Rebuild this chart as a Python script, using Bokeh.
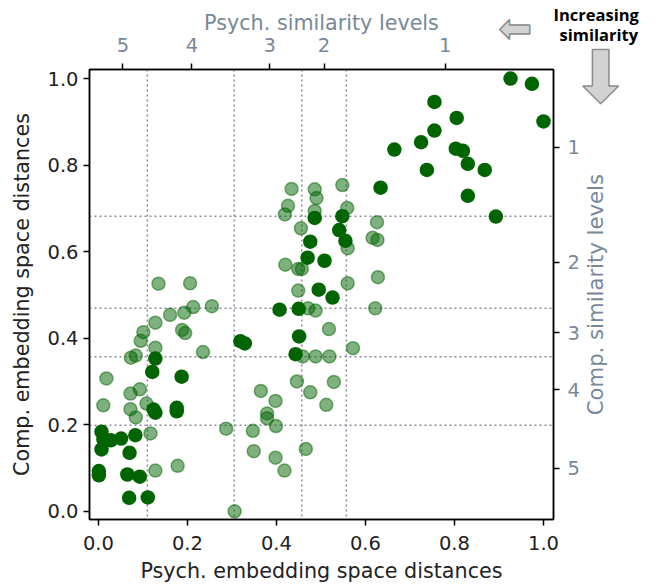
import math
from bokeh.plotting import figure
from bokeh.models import (LinearAxis, FixedTicker, Span, Range1d, Title,
                          PrintfTickFormatter)
from bokeh.embed import file_html
from bokeh.resources import INLINE

# ---- data ----
dark_x = [0.926, 0.974, 1.000, 0.755, 0.805, 0.755, 0.725, 0.665, 0.803, 0.819,
          0.830, 0.738, 0.868, 0.830, 0.634, 0.893, 0.486, 0.548, 0.541, 0.555,
          0.476, 0.470, 0.508, 0.495, 0.526, 0.407, 0.450, 0.451, 0.443, 0.319,
          0.329, 0.128, 0.121, 0.187, 0.124, 0.128, 0.176, 0.176, 0.007, 0.011,
          0.028, 0.051, 0.083, 0.007, 0.070, 0.001, 0.001, 0.065, 0.093, 0.069,
          0.111]
dark_y = [1.000, 0.988, 0.901, 0.946, 0.909, 0.880, 0.853, 0.836, 0.838, 0.833,
          0.803, 0.789, 0.789, 0.729, 0.748, 0.681, 0.678, 0.682, 0.650, 0.625,
          0.623, 0.586, 0.579, 0.512, 0.494, 0.466, 0.468, 0.404, 0.363, 0.393,
          0.388, 0.353, 0.322, 0.311, 0.235, 0.228, 0.239, 0.231, 0.184, 0.167,
          0.164, 0.168, 0.176, 0.143, 0.135, 0.093, 0.083, 0.085, 0.080, 0.031,
          0.032]

light_x = [0.434, 0.486, 0.490, 0.548, 0.426, 0.419, 0.486, 0.559, 0.626, 0.455,
           0.560, 0.616, 0.627, 0.420, 0.449, 0.457, 0.628, 0.560, 0.449, 0.135,
           0.206, 0.213, 0.255, 0.161, 0.193, 0.128, 0.101, 0.095, 0.188, 0.195,
           0.235, 0.128, 0.073, 0.084, 0.018, 0.072, 0.093, 0.011, 0.072, 0.108,
           0.084, 0.117, 0.128, 0.178, 0.306, 0.287, 0.471, 0.488, 0.622, 0.518,
           0.572, 0.459, 0.488, 0.519, 0.446, 0.529, 0.476, 0.512, 0.365, 0.398,
           0.379, 0.379, 0.399, 0.347, 0.349, 0.398, 0.418, 0.466]
light_y = [0.745, 0.744, 0.724, 0.754, 0.706, 0.686, 0.694, 0.701, 0.668, 0.654,
           0.608, 0.632, 0.627, 0.570, 0.560, 0.560, 0.541, 0.527, 0.510, 0.526,
           0.527, 0.472, 0.474, 0.454, 0.459, 0.436, 0.414, 0.394, 0.419, 0.412,
           0.368, 0.378, 0.355, 0.360, 0.307, 0.272, 0.282, 0.245, 0.236, 0.249,
           0.217, 0.180, 0.094, 0.105, 0.000, 0.191, 0.469, 0.464, 0.469, 0.421,
           0.377, 0.358, 0.358, 0.358, 0.300, 0.299, 0.275, 0.246, 0.278, 0.255,
           0.226, 0.215, 0.197, 0.186, 0.139, 0.124, 0.094, 0.144]

psych_thresholds = [0.110, 0.305, 0.457, 0.557]
comp_thresholds = [0.682, 0.469, 0.357, 0.199]

psych_level_ticks = [0.055, 0.210, 0.385, 0.507, 0.779]
psych_level_labels = ["5", "4", "3", "2", "1"]
comp_level_ticks = [0.841, 0.576, 0.413, 0.281, 0.099]
comp_level_labels = ["1", "2", "3", "4", "5"]

main_ticks = [0.0, 0.2, 0.4, 0.6, 0.8, 1.0]

FONT = "DejaVu Sans"
GREEN = "#006400"
GREY_TXT = "#778899"

X0, X1 = -0.02, 1.0225
Y0, Y1 = -0.019, 1.021
FL, FR, FT, FB = 89, 553, 69, 519   # frame edges in page pixels

p = figure(width=662, height=588,
           x_range=Range1d(X0, X1), y_range=Range1d(Y0, Y1),
           output_backend="svg", toolbar_location=None,
           min_border_left=FL, min_border_right=662 - FR,
           min_border_top=FT, min_border_bottom=588 - FB)
p.xgrid.visible = False
p.ygrid.visible = False
p.outline_line_color = "black"
p.outline_line_width = 1.5
p.background_fill_color = "white"
p.border_fill_color = "white"

def style_axis(ax, label_color, tick_color):
    ax.axis_line_color = "black"
    ax.axis_line_width = 1.5
    ax.major_tick_line_color = "black"
    ax.major_tick_line_width = 1.5
    ax.major_tick_in = 0
    ax.major_tick_out = 6
    ax.minor_tick_line_color = None
    ax.major_label_text_font = FONT
    ax.major_label_text_font_size = "19.5px"
    ax.major_label_text_color = tick_color
    ax.axis_label_text_font = FONT
    ax.axis_label_text_font_size = "20.7px"
    ax.axis_label_text_font_style = "normal"
    ax.axis_label_text_color = label_color

# bottom / left
p.xaxis.ticker = FixedTicker(ticks=main_ticks)
p.yaxis.ticker = FixedTicker(ticks=main_ticks)
p.xaxis.formatter = PrintfTickFormatter(format="%.1f")
p.yaxis.formatter = PrintfTickFormatter(format="%.1f")
p.xaxis.axis_label = "Psych. embedding space distances"
p.yaxis.axis_label = "Comp. embedding space distances"
for ax in p.xaxis + p.yaxis:
    style_axis(ax, "#222222", "#222222")
p.xaxis.major_label_standoff = 10
p.xaxis.axis_label_standoff = 6
p.yaxis.major_label_standoff = 5
p.yaxis.axis_label_standoff = 10

# top axis
top = LinearAxis(axis_label="Psych. similarity levels",
                 ticker=FixedTicker(ticks=psych_level_ticks),
                 major_label_overrides={t: l for t, l in zip(psych_level_ticks, psych_level_labels)})
style_axis(top, GREY_TXT, GREY_TXT)
top.major_label_standoff = 12
top.axis_label_standoff = 0
p.add_layout(top, "above")

# right axis (ticks + level labels)
right = LinearAxis(ticker=FixedTicker(ticks=comp_level_ticks),
                   major_label_overrides={t: l for t, l in zip(comp_level_ticks, comp_level_labels)})
style_axis(right, GREY_TXT, GREY_TXT)
right.major_label_standoff = 8
p.add_layout(right, "right")

# right axis title, reading bottom-to-top, centred on the axis
right_title = "Comp. similarity levels"
RT_SIZE = 21.2
title_len_data = 11.39 * RT_SIZE / (FB - FT) * (Y1 - Y0)
anchor = (Y0 + Y1) / 2 - title_len_data / 2
right_lab = LinearAxis(ticker=FixedTicker(ticks=[anchor]),
                       major_label_overrides={anchor: right_title},
                       major_label_orientation=math.pi / 2)
right_lab.axis_line_color = None
right_lab.major_tick_line_color = None
right_lab.minor_tick_line_color = None
right_lab.major_tick_in = 0
right_lab.major_tick_out = 0
right_lab.major_label_standoff = 13
right_lab.major_label_text_font = FONT
right_lab.major_label_text_font_size = f"{RT_SIZE}px"
right_lab.major_label_text_color = GREY_TXT
p.add_layout(right_lab, "right")

# threshold lines
for xv in psych_thresholds:
    p.add_layout(Span(location=xv, dimension="height", line_color="#8a8a9a",
                      line_width=1.5, line_dash="2 3", level="underlay"))
for yv in comp_thresholds:
    p.add_layout(Span(location=yv, dimension="width", line_color="#8a8a9a",
                      line_width=1.5, line_dash="2 3", level="underlay"))

# points
p.scatter(light_x, light_y, size=13, fill_color=GREEN, fill_alpha=0.5,
          line_color=GREEN, line_alpha=0.5, line_width=1.5)
p.scatter(dark_x, dark_y, size=14.5, fill_color=GREEN, fill_alpha=1.0,
          line_color=GREEN, line_width=0)

# "Increasing similarity" note with block arrows, as zero-height titles above
TOP_SLOT = 4
def note(text, left_px, bottom_px, size, font, style, color, outline=None):
    st = -2 * (bottom_px - TOP_SLOT)
    t = Title(text=text, align="left", vertical_align="bottom",
              offset=left_px - FL, text_font=font, text_font_size=size,
              text_font_style=style, text_color=color)
    try:
        t.standoff = st
    except ValueError:
        t.standoff = 0
    if outline is not None and "text_outline_color" in t.properties():
        t.text_outline_color = outline
    p.add_layout(t, "above")

note("Increasing", 553, 22.5, "16.5px", "Open Sans", "bold", "black")
note("similarity", 559, 42, "16.5px", "Open Sans", "bold", "black")
note("\u2b05", 498, 47, "40px", "DejaVu Sans", "normal", "#d3d3d3", "#8c8c8c")
note("\u2b07", 570, 115, "72px", "DejaVu Sans", "normal", "#d3d3d3", "#8c8c8c")

open("out.html", "w").write(file_html(p, INLINE))
